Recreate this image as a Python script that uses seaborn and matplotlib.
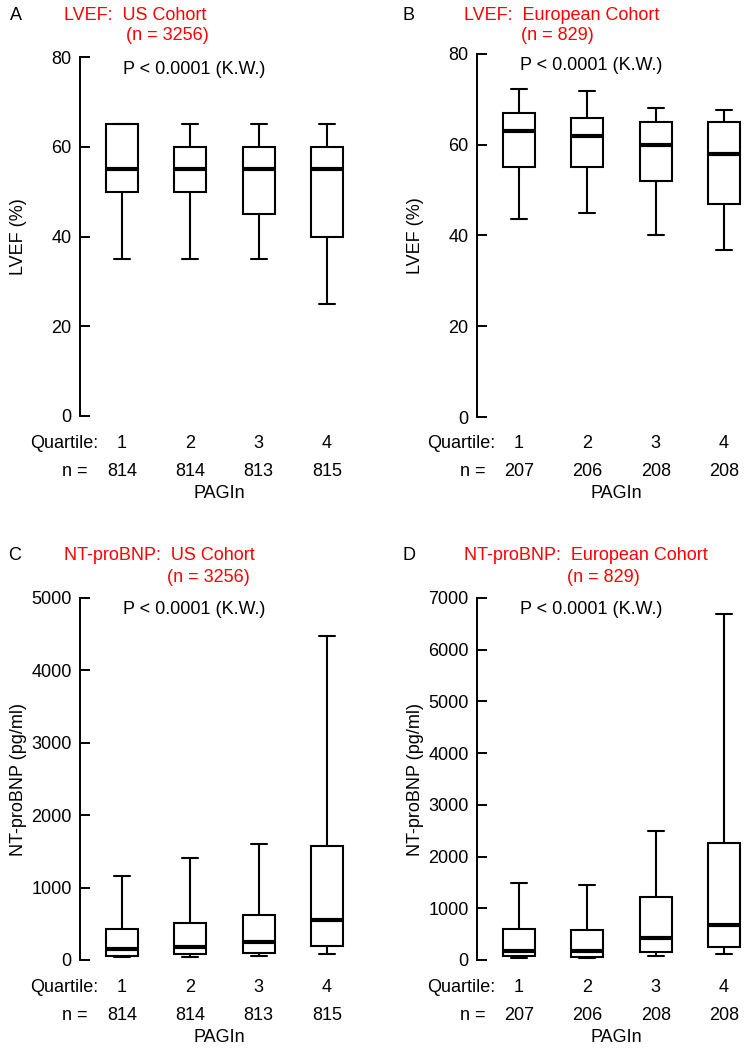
import matplotlib
matplotlib.use("Agg")
import matplotlib.pyplot as plt
import seaborn as sns
import pandas as pd

# ---------------- data ----------------
quartiles = ["1", "2", "3", "4"]
us_n = [814, 814, 813, 815]
eu_n = [207, 206, 208, 208]

# LVEF (%), US cohort: whisker low, Q1, median, Q3, whisker high
lvef_us_low = [35, 35, 35, 25]
lvef_us_q1 = [50, 50, 45, 40]
lvef_us_med = [55, 55, 55, 55]
lvef_us_q3 = [65, 60, 60, 60]
lvef_us_high = [65, 65, 65, 65]

# LVEF (%), European cohort
lvef_eu_low = [43.6, 45, 40, 36.7]
lvef_eu_q1 = [55, 55, 52, 47]
lvef_eu_med = [63, 62, 60, 58]
lvef_eu_q3 = [67, 66, 65, 65]
lvef_eu_high = [72.2, 71.8, 68, 67.7]

# NT-proBNP (pg/ml), US cohort
bnp_us_low = [48, 48, 52, 80]
bnp_us_q1 = [62, 76, 90, 191]
bnp_us_med = [150, 178, 252, 552]
bnp_us_q3 = [425, 515, 615, 1575]
bnp_us_high = [1155, 1405, 1600, 4475]

# NT-proBNP (pg/ml), European cohort
bnp_eu_low = [40, 45, 78, 117]
bnp_eu_q1 = [84, 64, 150, 259]
bnp_eu_med = [165, 175, 428, 681]
bnp_eu_q3 = [590, 578, 1220, 2260]
bnp_eu_high = [1490, 1453, 2490, 6690]

# ---------------- style ----------------
sns.set_theme(style="ticks")
plt.rcParams["font.family"] = ["Liberation Sans", "DejaVu Sans"]
plt.rcParams["text.color"] = "black"
plt.rcParams["axes.labelcolor"] = "black"
plt.rcParams["xtick.color"] = "black"
plt.rcParams["ytick.color"] = "black"
plt.rcParams["axes.edgecolor"] = "black"
FS = 13

W, H = 750, 1050
fig = plt.figure(figsize=(7.5, 10.5), dpi=100)


def summary_frame(low, q1, med, q3, high):
    rows = []
    for i, q in enumerate(quartiles):
        for v in (low[i], q1[i], med[i], q3[i], high[i]):
            rows.append({"quartile": q, "value": v})
    return pd.DataFrame(rows)


def make_axes(left, top, bottom, width=271):
    return fig.add_axes([left / W, 1 - bottom / H, width / W, (bottom - top) / H])


def panel(ax, df, yticks, ylabel, ns, letter, title, ntext, pos):
    sns.boxplot(data=df, x="quartile", y="value", order=quartiles,
                whis=(0, 100), width=0.47, color="white", linecolor="black",
                linewidth=1.5, showfliers=False,
                medianprops={"linewidth": 3, "color": "black"}, ax=ax)
    ax.set_xlim(-0.615, 3.35)
    ax.set_ylim(yticks[0], yticks[-1])
    ax.set_yticks(yticks)
    ax.set_yticklabels([str(t) for t in yticks], fontsize=FS, color="black")
    ax.tick_params(axis="y", direction="in", length=7.2, width=1.4, pad=6,
                   color="black", labelcolor="black")
    ax.set_xticks([])
    ax.set_xlabel("")
    for s in ("top", "right", "bottom"):
        ax.spines[s].set_visible(False)
    ax.spines["left"].set_linewidth(1.4)
    ax.spines["left"].set_color("black")
    ax.set_ylabel(ylabel, fontsize=FS, color="black")
    ax.yaxis.set_label_coords(-53 / 271, 0.5)

    ax.annotate("P < 0.0001 (K.W.)", xy=(0, 1), xycoords="axes fraction",
                xytext=(43, -12), textcoords="offset pixels",
                ha="left", va="center", fontsize=FS, color="black")

    tr = ("data", "axes fraction")
    for i, q in enumerate(quartiles):
        ax.annotate(q, xy=(i, 0), xycoords=tr, xytext=(0, -27),
                    textcoords="offset pixels", ha="center", va="center",
                    fontsize=FS, color="black", annotation_clip=False)
        ax.annotate(str(ns[i]), xy=(i, 0), xycoords=tr, xytext=(0, -55),
                    textcoords="offset pixels", ha="center", va="center",
                    fontsize=FS, color="black", annotation_clip=False)
    ax.annotate("Quartile:", xy=(-0.615, 0), xycoords=tr, xytext=(18, -27),
                textcoords="offset pixels", ha="right", va="center",
                fontsize=FS, color="black", annotation_clip=False)
    ax.annotate("n =", xy=(-0.615, 0), xycoords=tr, xytext=(8, -55),
                textcoords="offset pixels", ha="right", va="center",
                fontsize=FS, color="black", annotation_clip=False)
    ax.annotate("PAGIn", xy=(1.43, 0), xycoords=tr, xytext=(0, -77),
                textcoords="offset pixels", ha="center", va="center",
                fontsize=FS, color="black", annotation_clip=False)

    lx, tx, nx, ty, ny = pos
    fig.text(lx / W, 1 - ty / H, letter, fontsize=FS, color="black",
             ha="left", va="center")
    fig.text(tx / W, 1 - ty / H, title, fontsize=FS, color="#ff0000",
             ha="left", va="center")
    fig.text(nx / W, 1 - ny / H, ntext, fontsize=FS, color="#ff0000",
             ha="left", va="center")


axA = make_axes(80, 57, 416)
axB = make_axes(477, 54, 417)
axC = make_axes(80, 598, 960)
axD = make_axes(477, 598, 960)

panel(axA, summary_frame(lvef_us_low, lvef_us_q1, lvef_us_med, lvef_us_q3, lvef_us_high),
      [0, 20, 40, 60, 80], "LVEF (%)", us_n, "A", "LVEF:  US Cohort", "(n = 3256)",
      (10, 64, 126, 16, 36))
panel(axB, summary_frame(lvef_eu_low, lvef_eu_q1, lvef_eu_med, lvef_eu_q3, lvef_eu_high),
      [0, 20, 40, 60, 80], "LVEF (%)", eu_n, "B", "LVEF:  European Cohort", "(n = 829)",
      (403, 464, 521, 16, 36))
panel(axC, summary_frame(bnp_us_low, bnp_us_q1, bnp_us_med, bnp_us_q3, bnp_us_high),
      [0, 1000, 2000, 3000, 4000, 5000], "NT-proBNP (pg/ml)", us_n, "C",
      "NT-proBNP:  US Cohort", "(n = 3256)", (8, 64, 167, 556, 577))
panel(axD, summary_frame(bnp_eu_low, bnp_eu_q1, bnp_eu_med, bnp_eu_q3, bnp_eu_high),
      [0, 1000, 2000, 3000, 4000, 5000, 6000, 7000], "NT-proBNP (pg/ml)", eu_n, "D",
      "NT-proBNP:  European Cohort", "(n = 829)", (403, 464, 567, 556, 577))

fig.savefig("out.png", dpi=100, facecolor="white")
